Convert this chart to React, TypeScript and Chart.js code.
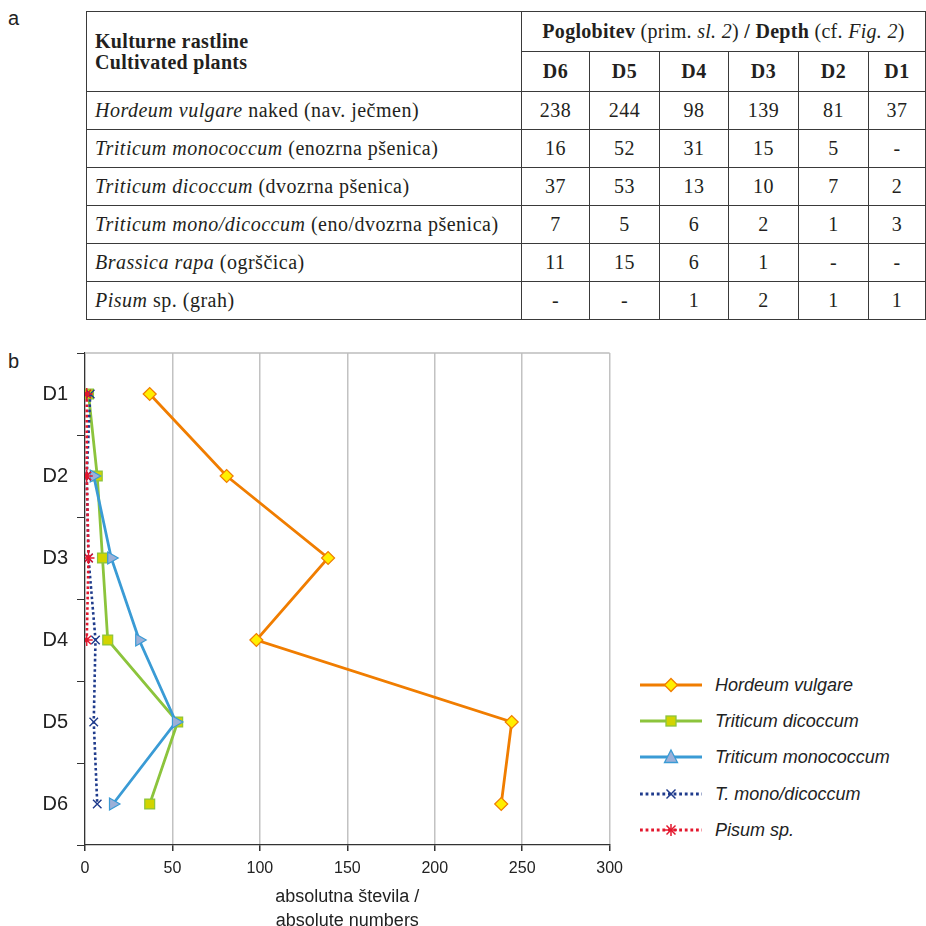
import React, { useEffect, useRef } from 'react';
import { Chart, registerables } from 'chart.js';

Chart.register(...registerables);

// ---------- chart (b) data ----------
const depthLabels = ['D1', 'D2', 'D3', 'D4', 'D5', 'D6'];
const hordeumVulgare = [37, 81, 139, 98, 244, 238];
const triticumDicoccum = [2, 7, 10, 13, 53, 37];
const triticumMonococcum = [null, 5, 15, 31, 52, 16];
const tMonoDicoccum = [3, 1, 2, 6, 5, 7];
const pisumSp = [1, 1, 2, 1, null, null];
const xTitle = ['absolutna števila /', 'absolute numbers'];
const seriesNames = ['Hordeum vulgare', 'Triticum dicoccum', 'Triticum monococcum', 'T. mono/dicoccum', 'Pisum sp.'];

// ---------- table (a) data ----------
const tableDepths = ['D6', 'D5', 'D4', 'D3', 'D2', 'D1'];
const rowLatin = ['Hordeum vulgare', 'Triticum monococcum', 'Triticum dicoccum', 'Triticum mono/dicoccum', 'Brassica rapa', 'Pisum'];
const rowRest = [' naked (nav. ječmen)', ' (enozrna pšenica)', ' (dvozrna pšenica)', ' (eno/dvozrna pšenica)', ' (ogrščica)', ' sp. (grah)'];
const rowHordeum = ['238', '244', '98', '139', '81', '37'];
const rowMonococcum = ['16', '52', '31', '15', '5', '-'];
const rowDicoccum = ['37', '53', '13', '10', '7', '2'];
const rowMonoDicoccum = ['7', '5', '6', '2', '1', '3'];
const rowBrassica = ['11', '15', '6', '1', '-', '-'];
const rowPisum = ['-', '-', '1', '2', '1', '1'];
const tableValues = [rowHordeum, rowMonococcum, rowDicoccum, rowMonoDicoccum, rowBrassica, rowPisum];

const ORANGE = '#f07d00';
const YELLOW = '#ffef00';
const GREEN = '#8cc43c';
const GREEN_FILL = '#d2d400';
const BLUE = '#3a9bd5';
const BLUE_FILL = '#9cb0d8';
const NAVY = '#1f3b8c';
const RED = '#e3172d';
const SANS = '"Liberation Sans", Arial, sans-serif';
const SERIF = '"Liberation Serif", "Times New Roman", serif';

const topBorder = {
  id: 'topBorder',
  beforeDatasetsDraw(chart: any) {
    const { ctx, chartArea } = chart;
    ctx.save();
    ctx.strokeStyle = '#bdbdbd';
    ctx.lineWidth = 1.5;
    ctx.beginPath();
    ctx.moveTo(chartArea.left, chartArea.top);
    ctx.lineTo(chartArea.right, chartArea.top);
    ctx.stroke();
    ctx.restore();
  },
};

function ChartB() {
  const ref = useRef<HTMLCanvasElement | null>(null);
  useEffect(() => {
    if (!ref.current) return;
    const chart = new Chart(ref.current, {
      type: 'line',
      data: {
        labels: depthLabels,
        datasets: [
          {
            label: seriesNames[0], data: hordeumVulgare as any, borderColor: ORANGE, backgroundColor: YELLOW,
            borderWidth: 2.8, pointStyle: 'rectRot', pointRadius: 6.5, pointBorderColor: ORANGE,
            pointBackgroundColor: YELLOW, pointBorderWidth: 1.2, order: 5,
          },
          {
            label: seriesNames[1], data: triticumDicoccum as any, borderColor: GREEN, backgroundColor: GREEN_FILL,
            borderWidth: 2.8, pointStyle: 'rect', pointRadius: 7, pointBorderColor: GREEN,
            pointBackgroundColor: GREEN_FILL, pointBorderWidth: 1.2, order: 4,
          },
          {
            label: seriesNames[2], data: triticumMonococcum as any, borderColor: BLUE, backgroundColor: BLUE_FILL,
            borderWidth: 2.8, pointStyle: 'triangle', pointRotation: 90, pointRadius: 7, pointBorderColor: BLUE,
            pointBackgroundColor: BLUE_FILL, pointBorderWidth: 1.2, order: 3,
          },
          {
            label: seriesNames[3], data: tMonoDicoccum as any, borderColor: NAVY, backgroundColor: NAVY,
            borderWidth: 2.6, borderDash: [2.6, 2.6], pointStyle: 'crossRot', pointRadius: 6, pointBorderColor: NAVY,
            pointBackgroundColor: NAVY, pointBorderWidth: 1.4, order: 2,
          },
          {
            label: seriesNames[4], data: pisumSp as any, borderColor: RED, backgroundColor: RED,
            borderWidth: 2.6, borderDash: [2.6, 2.6], pointStyle: 'star', pointRadius: 6, pointBorderColor: RED,
            pointBackgroundColor: RED, pointBorderWidth: 1.4, order: 1,
          },
        ],
      },
      options: {
        indexAxis: 'y',
        animation: false,
        responsive: false,
        maintainAspectRatio: false,
        spanGaps: false,
        layout: { padding: { top: 13, right: 16, left: 0, bottom: 0 } },
        plugins: { legend: { display: false }, tooltip: { enabled: false } },
        elements: { line: { tension: 0 } },
        scales: {
          x: {
            type: 'linear',
            position: 'bottom',
            min: 0,
            max: 300,
            ticks: { stepSize: 50, color: '#222', font: { family: SANS, size: 16 }, padding: 8 },
            grid: { color: '#c2c2c2', lineWidth: 1.5, tickColor: '#333', tickLength: 6 },
            border: { color: '#333', width: 1.2 },
            title: {
              display: true,
              text: xTitle,
              color: '#222',
              font: { family: SANS, size: 18, lineHeight: 1.35 },
              padding: 0,
            },
            afterFit: (s: any) => { s.height = 88; },
          },
          y: {
            type: 'category',
            offset: true,
            grid: { offset: true, drawOnChartArea: false, tickLength: 8, tickColor: '#333' },
            border: { color: '#333', width: 1.2 },
            ticks: { color: '#222', font: { family: SANS, size: 20 }, padding: 9 },
            afterFit: (s: any) => { s.width = 85; },
          },
        },
      } as any,
      plugins: [topBorder],
    });
    return () => chart.destroy();
  }, []);
  return <canvas ref={ref} width={631} height={601} style={{ width: 631, height: 601, display: 'block' }} />;
}

type LegendItem = { name: string; color: string; dashed: boolean; marker: string };
const legendItems: LegendItem[] = [
  { name: seriesNames[0], color: ORANGE, dashed: false, marker: 'diamond' },
  { name: seriesNames[1], color: GREEN, dashed: false, marker: 'square' },
  { name: seriesNames[2], color: BLUE, dashed: false, marker: 'triangle' },
  { name: seriesNames[3], color: NAVY, dashed: true, marker: 'x' },
  { name: seriesNames[4], color: RED, dashed: true, marker: 'star' },
];

function Marker({ kind }: { kind: string }) {
  const cx = 31, cy = 9;
  if (kind === 'diamond') return <polygon points={`${cx},${cy - 6.5} ${cx + 6.5},${cy} ${cx},${cy + 6.5} ${cx - 6.5},${cy}`} fill={YELLOW} stroke={ORANGE} strokeWidth={1.3} />;
  if (kind === 'square') return <rect x={cx - 5} y={cy - 5} width={10} height={10} fill={GREEN_FILL} stroke={GREEN} strokeWidth={1.3} />;
  if (kind === 'triangle') return <polygon points={`${cx},${cy - 7} ${cx + 6.5},${cy + 5.5} ${cx - 6.5},${cy + 5.5}`} fill={BLUE_FILL} stroke={BLUE} strokeWidth={1.3} />;
  if (kind === 'x') return (
    <g stroke={NAVY} strokeWidth={1.5}>
      <line x1={cx - 4.5} y1={cy - 4.5} x2={cx + 4.5} y2={cy + 4.5} />
      <line x1={cx - 4.5} y1={cy + 4.5} x2={cx + 4.5} y2={cy - 4.5} />
    </g>
  );
  return (
    <g stroke={RED} strokeWidth={1.5}>
      <line x1={cx - 4.5} y1={cy - 4.5} x2={cx + 4.5} y2={cy + 4.5} />
      <line x1={cx - 4.5} y1={cy + 4.5} x2={cx + 4.5} y2={cy - 4.5} />
      <line x1={cx} y1={cy - 6} x2={cx} y2={cy + 6} />
      <line x1={cx - 6} y1={cy} x2={cx + 6} y2={cy} />
    </g>
  );
}

function Legend() {
  const tops = [685, 721, 757, 794, 830];
  return (
    <>
      {legendItems.map((it, i) => (
        <div key={it.name} style={{ position: 'absolute', left: 640, top: tops[i] - 9, height: 18, display: 'flex', alignItems: 'center' }}>
          <svg width={62} height={18} style={{ display: 'block' }}>
            <line x1={0} y1={9} x2={62} y2={9} stroke={it.color} strokeWidth={2.8} strokeDasharray={it.dashed ? '2.8 2.8' : undefined} />
            <Marker kind={it.marker} />
          </svg>
          <span style={{ position: 'absolute', left: 75, top: -3, fontFamily: SANS, fontSize: 18, fontStyle: 'italic', color: '#222', whiteSpace: 'nowrap', lineHeight: '24px' }}>{it.name}</span>
        </div>
      ))}
    </>
  );
}

function TableA() {
  const border = '1px solid #3a3a3a';
  const colW = [435, 68, 70, 69, 70, 70, 57];
  const td: React.CSSProperties = { border, textAlign: 'center', padding: 0, height: 37 };
  return (
    <table style={{ position: 'absolute', left: 86, top: 11, borderCollapse: 'collapse', tableLayout: 'fixed', width: 839, fontFamily: SERIF, fontSize: 20, letterSpacing: '0.5px', color: '#231f20' }}>
      <colgroup>
        {colW.map((w, i) => <col key={i} style={{ width: w }} />)}
      </colgroup>
      <tbody>
        <tr style={{ height: 40 }}>
          <td rowSpan={2} style={{ border, padding: '0 0 0 8px', textAlign: 'left', fontWeight: 'bold', lineHeight: '21px', letterSpacing: '0.3px' }}>
            Kulturne rastline<br />Cultivated plants
          </td>
          <td colSpan={6} style={{ border, textAlign: 'center', padding: 0, letterSpacing: '0.3px' }}>
            <b>Poglobitev</b> (prim. <i>sl. 2</i>) <b>/ Depth</b> (cf. <i>Fig. 2</i>)
          </td>
        </tr>
        <tr style={{ height: 40 }}>
          {tableDepths.map((d) => <td key={d} style={{ ...td, fontWeight: 'bold' }}>{d}</td>)}
        </tr>
        {tableValues.map((row, r) => (
          <tr key={r} style={{ height: 38 }}>
            <td style={{ border, textAlign: 'left', padding: '0 0 0 8px', whiteSpace: 'nowrap' }}><i>{rowLatin[r]}</i>{rowRest[r]}</td>
            {row.map((v, c) => <td key={c} style={td}>{v}</td>)}
          </tr>
        ))}
      </tbody>
    </table>
  );
}

export default function App() {
  return (
    <div style={{ position: 'fixed', left: 0, top: 0, width: 926, height: 926, overflow: 'hidden', background: '#fff' }}>
      <div style={{ position: 'absolute', left: 8, top: 6, fontFamily: SANS, fontSize: 20, lineHeight: '24px', color: '#222' }}>a</div>
      <TableA />
      <div style={{ position: 'absolute', left: 8, top: 349, fontFamily: SANS, fontSize: 20, lineHeight: '24px', color: '#222' }}>b</div>
      <div style={{ position: 'absolute', left: 0, top: 332 }}>
        <ChartB />
      </div>
      <Legend />
    </div>
  );
}
